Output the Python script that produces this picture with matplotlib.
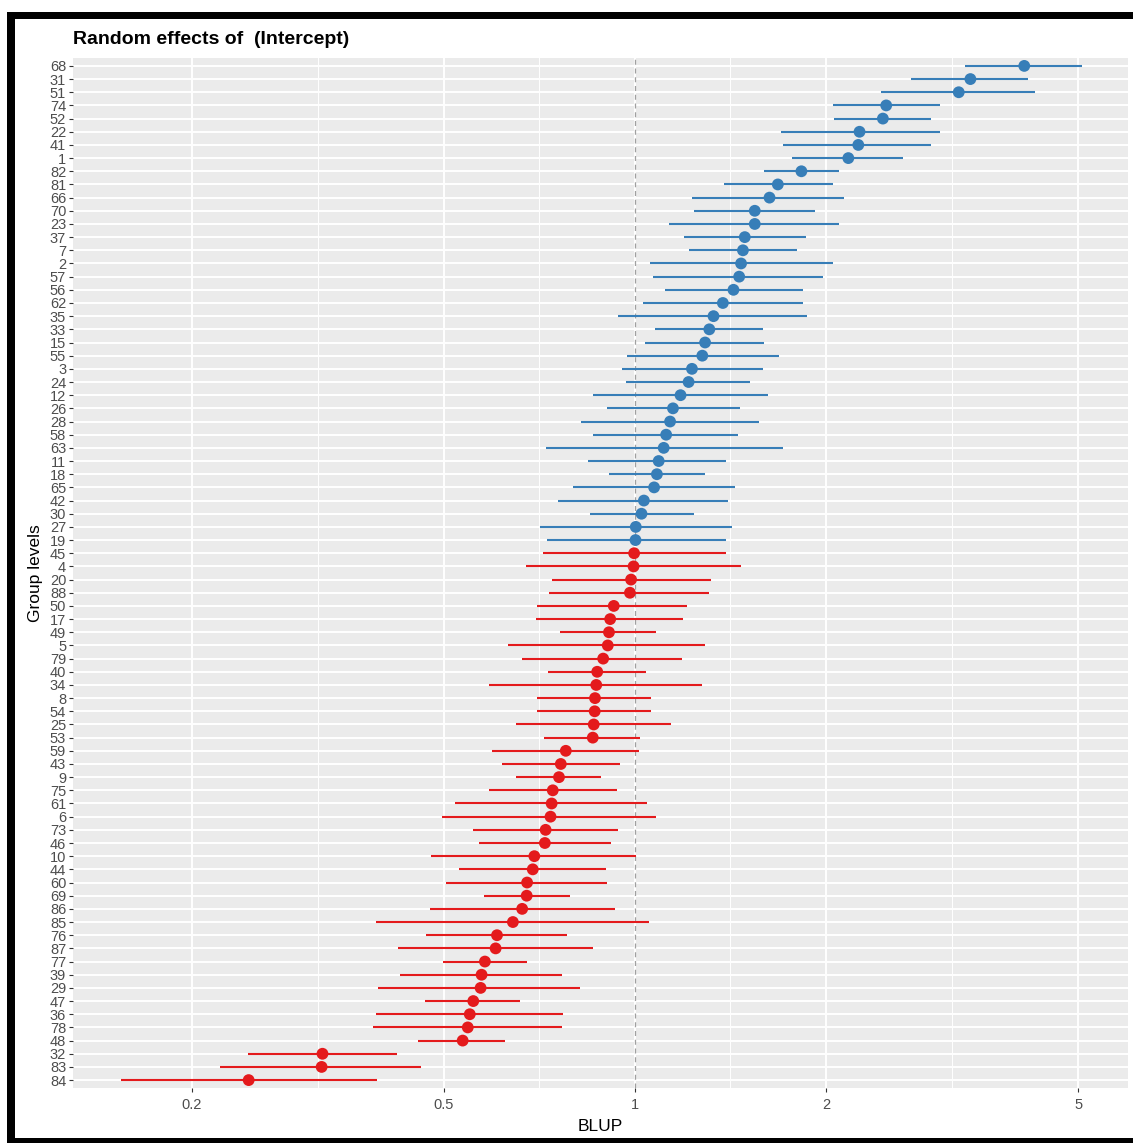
import numpy as np
import matplotlib
matplotlib.use("Agg")
import matplotlib.pyplot as plt
from matplotlib.patches import Rectangle
from matplotlib.ticker import FixedLocator, NullFormatter

# random intercept BLUPs per group with their intervals, sorted by estimate
levels = ["68", "31", "51", "74", "52", "22", "41", "1", "82", "81", "66", "70", "23",
          "37", "7", "2", "57", "56", "62", "35", "33", "15", "55", "3", "24", "12",
          "26", "28", "58", "63", "11", "18", "65", "42", "30", "27", "19", "45", "4",
          "20", "88", "50", "17", "49", "5", "79", "40", "34", "8", "54", "25", "53",
          "59", "43", "9", "75", "61", "6", "73", "46", "10", "44", "60", "69", "86",
          "85", "76", "87", "77", "39", "29", "47", "36", "78", "48", "32", "83", "84"]

blup = [4.11, 3.38, 3.24, 2.49, 2.46, 2.26, 2.25, 2.17, 1.83, 1.68, 1.63, 1.545, 1.545,
        1.49, 1.48, 1.47, 1.46, 1.43, 1.376, 1.33, 1.31, 1.29, 1.277, 1.23, 1.215, 1.18,
        1.148, 1.136, 1.12, 1.11, 1.09, 1.083, 1.072, 1.033, 1.024, 1.003, 1.002, 0.997, 0.995,
        0.986, 0.982, 0.926, 0.914, 0.910, 0.906, 0.891, 0.872, 0.869, 0.865, 0.864, 0.861, 0.858,
        0.778, 0.764, 0.759, 0.742, 0.739, 0.736, 0.723, 0.721, 0.694, 0.690, 0.676, 0.675, 0.664,
        0.642, 0.606, 0.603, 0.580, 0.573, 0.571, 0.556, 0.549, 0.545, 0.535, 0.3216, 0.3206, 0.246]

ci_low = [3.31, 2.72, 2.44, 2.05, 2.06, 1.70, 1.71, 1.77, 1.60, 1.38, 1.23, 1.24, 1.13,
          1.196, 1.216, 1.057, 1.069, 1.116, 1.03, 0.94, 1.076, 1.037, 0.97, 0.953, 0.969, 0.858,
          0.902, 0.821, 0.858, 0.723, 0.842, 0.909, 0.80, 0.757, 0.849, 0.708, 0.727, 0.717, 0.673,
          0.739, 0.732, 0.702, 0.699, 0.761, 0.631, 0.664, 0.729, 0.589, 0.701, 0.701, 0.650, 0.719,
          0.595, 0.617, 0.650, 0.589, 0.521, 0.497, 0.556, 0.567, 0.477, 0.528, 0.504, 0.578, 0.475,
          0.391, 0.468, 0.423, 0.499, 0.426, 0.394, 0.466, 0.391, 0.387, 0.455, 0.245, 0.222, 0.155]

ci_high = [5.07, 4.17, 4.27, 3.03, 2.93, 3.03, 2.93, 2.65, 2.10, 2.05, 2.14, 1.92, 2.10,
           1.86, 1.80, 2.05, 1.98, 1.84, 1.84, 1.87, 1.59, 1.60, 1.69, 1.59, 1.52, 1.62,
           1.466, 1.57, 1.455, 1.71, 1.39, 1.29, 1.436, 1.40, 1.24, 1.42, 1.39, 1.39, 1.47,
           1.32, 1.31, 1.21, 1.19, 1.08, 1.29, 1.186, 1.04, 1.275, 1.06, 1.06, 1.14, 1.017,
           1.013, 0.947, 0.885, 0.936, 1.044, 1.08, 0.939, 0.916, 1.005, 0.90, 0.903, 0.789, 0.931,
           1.053, 0.782, 0.859, 0.675, 0.766, 0.820, 0.660, 0.769, 0.766, 0.624, 0.421, 0.46, 0.392]

x_breaks = [0.2, 0.5, 1, 2, 5]
x_labels = ["0.2", "0.5", "1", "2", "5"]

POS_COL = "#377eb8"
NEG_COL = "#e41a1c"
TXT_COL = "#4d4d4d"

plt.rcParams["font.family"] = ["Liberation Sans", "DejaVu Sans"]

W, H = 1133, 1143
fig = plt.figure(figsize=(W / 100, H / 100), dpi=100)

# panel placement in pixels
left, right, top, bottom = 73, 1128, 58, 1088
ax = fig.add_axes([left / W, 1 - bottom / H, (right - left) / W, (bottom - top) / H])
ax.set_facecolor("#ebebeb")
for s in ax.spines.values():
    s.set_visible(False)

n = len(levels)
ypos = np.arange(n)
est = np.array(blup)
lo = np.array(ci_low)
hi = np.array(ci_high)
cols = [POS_COL if v > 1 else NEG_COL for v in est]

ax.set_xscale("log")
ax.set_xlim(0.130, 5.99)
ax.set_ylim(n - 1 + 0.6, -0.6)

# grid: minor breaks halfway between majors on the log scale
lb = np.log10(x_breaks)
minor = 10 ** ((lb[:-1] + lb[1:]) / 2)
ax.xaxis.set_major_locator(FixedLocator(x_breaks))
ax.xaxis.set_minor_locator(FixedLocator(minor))
ax.xaxis.set_minor_formatter(NullFormatter())
ax.set_xticklabels(x_labels)
ax.set_yticks(ypos)
ax.set_yticklabels(levels)
ax.yaxis.set_minor_locator(FixedLocator([]))

ax.set_axisbelow(True)
ax.grid(which="major", axis="both", color="white", linewidth=1.4)
ax.grid(which="minor", axis="x", color="white", linewidth=0.7)
ax.tick_params(which="major", length=2.9, width=0.8, color="#333333",
               labelcolor=TXT_COL, labelsize=10.5)
ax.tick_params(axis="x", pad=4)
ax.tick_params(axis="y", pad=2)
ax.tick_params(which="minor", length=0)

ax.axvline(1, color="#a0a0a0", linestyle=(0, (4, 3)), linewidth=0.9, zorder=1.5)

ax.hlines(ypos, lo, hi, colors=cols, linewidth=1.5, zorder=2)
ax.scatter(est, ypos, s=8.5 ** 2, c=cols, zorder=3, linewidths=0)

ax.set_xlabel("BLUP", fontsize=12.5, color="black", labelpad=5)
ax.set_ylabel("Group levels", fontsize=12.5, color="black", labelpad=5)

fig.text(left / W, 1 - 39 / H, "Random effects of  (Intercept)", fontsize=14,
         fontweight="bold", ha="left", va="center")

# black frame along top, left and bottom edges
def frame(x0, y0, x1, y1):
    fig.add_artist(Rectangle((x0 / W, 1 - y1 / H), (x1 - x0) / W, (y1 - y0) / H,
                             transform=fig.transFigure, color="black", lw=0))

frame(7, 12, W, 19)
frame(7, 12, 15, H)
frame(7, 1138, W, H)

fig.savefig("out.png", dpi=100)
